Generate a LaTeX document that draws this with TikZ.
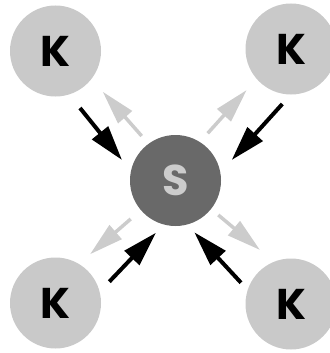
\documentclass[tikz,border=0pt]{standalone}
\usepackage{fontspec}
\setmainfont{Poppins}
\usetikzlibrary{arrows.meta}
\definecolor{kfill}{gray}{0.79}
\definecolor{sfill}{gray}{0.41}
\definecolor{slabel}{gray}{0.80}
\definecolor{outgray}{gray}{0.80}
\begin{document}
\begin{tikzpicture}[x=1pt,y=-1pt,
  client/.style={circle,fill=kfill,minimum size=91pt,inner sep=0pt,
    font=\fontsize{43}{43}\selectfont\bfseries,text=black},
  server/.style={circle,fill=sfill,minimum size=91pt,inner sep=0pt,
    font=\fontsize{43}{43}\selectfont\bfseries,text=slabel},
  inflow/.style={draw=black,line width=4pt,
    -{Triangle[length=35pt,width=20pt]}},
  outflow/.style={draw=outgray,line width=3.5pt,
    -{Triangle[length=34pt,width=18pt]}}]
\useasboundingbox (0,0) rectangle (329,353);

% nodes
\node[server] (s)  at (175.5,180.5) {S};
\node[client] (k1) at (55.5,51) {K};
\node[client] (k2) at (291,49) {K};
\node[client] (k3) at (55.5,303) {K};
\node[client] (k4) at (291,304) {K};

% arrow end points
\coordinate (a1) at (80,108);    \coordinate (b1) at (122,160);
\coordinate (a2) at (282.3,104); \coordinate (b2) at (231.7,160);
\coordinate (a3) at (109.3,281.7); \coordinate (b3) at (156,232.7);
\coordinate (a4) at (241,282.7); \coordinate (b4) at (194.3,232.3);

\coordinate (c1) at (141.7,136); \coordinate (d1) at (102.7,91.7);
\coordinate (c2) at (207.7,133.3); \coordinate (d2) at (246.7,90);
\coordinate (c3) at (130.7,219); \coordinate (d3) at (90,254.3);
\coordinate (c4) at (218.3,215); \coordinate (d4) at (260,250);

% requests from the clients
\draw[inflow] (a1) -- (b1);
\draw[inflow] (a2) -- (b2);
\draw[inflow] (a3) -- (b3);
\draw[inflow] (a4) -- (b4);

% replies from the server
\draw[outflow] (c1) -- (d1);
\draw[outflow] (c2) -- (d2);
\draw[outflow] (c3) -- (d3);
\draw[outflow] (c4) -- (d4);
\end{tikzpicture}
\end{document}
